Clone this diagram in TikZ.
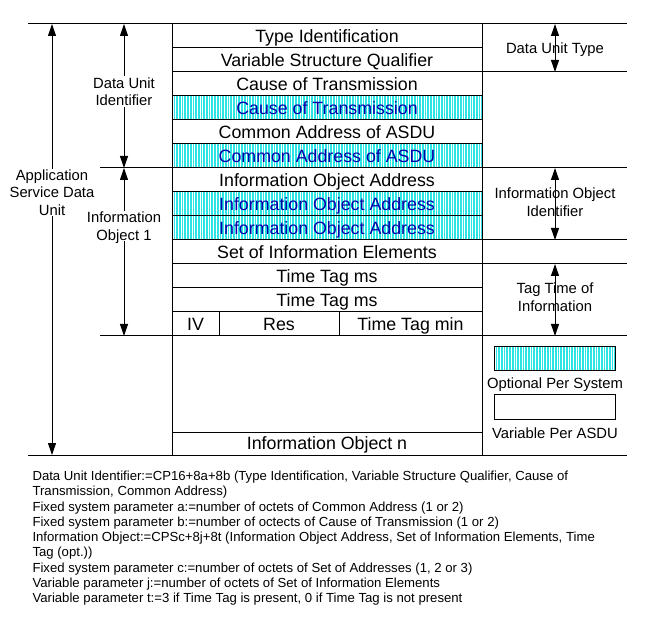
\documentclass[tikz,border=0pt]{standalone}
\usepackage{fontspec}
\setmainfont{Liberation Sans}
\usetikzlibrary{arrows.meta}
\definecolor{cyanfill}{RGB}{45,228,228}
\definecolor{bluetext}{RGB}{0,0,170}
\newcommand\rowfnt{\fontsize{17.8}{21}\selectfont}
\newcommand\lblfnt{\fontsize{14.8}{17.5}\selectfont}
\newcommand\notefnt{\fontsize{13.16}{15.25}\selectfont}
\begin{document}
\begin{tikzpicture}[x=1pt,y=-1pt,line width=1pt,
  rowbox/.style={draw, outer sep=0pt, inner sep=0pt, anchor=north west, minimum height=24pt, font=\rowfnt, text height=12.7pt, text depth=0pt},
  fullrow/.style={rowbox, minimum width=310pt},
  hatched/.style={fill=cyanfill, text=bluetext, path picture={\foreach \k in {0,...,120}{\draw[white,line width=0.8pt] ([xshift=\k*2.7pt+1pt]path picture bounding box.south west) -- ([xshift=\k*2.7pt+1pt]path picture bounding box.north west);}}},
  lbl/.style={font=\lblfnt, align=center, inner sep=1pt, text depth=0pt},
  dimarrow/.style={line width=1pt, {Triangle[length=12pt,width=8pt]}-{Triangle[length=12pt,width=8pt]}}
]
\useasboundingbox (0,0) rectangle (646,631);
% table rows
\node[fullrow] (r1) at (172,24) {Type Identification};
\node[fullrow] (r2) at (172,48) {Variable Structure Qualifier};
\node[fullrow] (r3) at (172,72) {Cause of Transmission};
\node[fullrow,hatched] (r4) at (172,96) {Cause of Transmission};
\node[fullrow] (r5) at (172,120) {Common Address of ASDU};
\node[fullrow,hatched] (r6) at (172,144) {Common Address of ASDU};
\node[fullrow] (r7) at (172,168) {Information Object Address};
\node[fullrow,hatched] (r8) at (172,192) {Information Object Address};
\node[fullrow,hatched] (r9) at (172,216) {Information Object Address};
\node[fullrow] (r10) at (172,240) {Set of Information Elements};
\node[fullrow] (r11) at (172,264) {Time Tag ms};
\node[fullrow] (r12) at (172,288) {Time Tag ms};
\node[rowbox, minimum width=47pt] (iv) at (172,312) {IV};
\node[rowbox, minimum width=120pt] (res) at (219,312) {Res};
\node[rowbox, minimum width=143pt] (ttm) at (339,312) {Time Tag min};
\node[fullrow, minimum height=96pt] (gap) at (172,336) {};
\node[fullrow, minimum height=23pt] (rn) at (172,432) {Information Object n};
% rules
\draw (28,24) -- (627,24);
\draw (28,455) -- (627,455);
\draw (100,168) -- (172,168);
\draw (100,336) -- (172,336);
\foreach \yy in {72,168,240,264,336} \draw (482,\yy) -- (627,\yy);
% arrows
\coordinate (asdT) at (52,24);
\coordinate (asdB) at (52,455);
\coordinate (duiT) at (124,24);
\coordinate (duiB) at (124,168);
\coordinate (io1B) at (124,336);
\coordinate (dutT) at (555,24);
\coordinate (dutB) at (555,72);
\coordinate (ioiT) at (555,168);
\coordinate (ioiB) at (555,240);
\coordinate (ttT) at (555,264);
\coordinate (ttB) at (555,336);
\draw[dimarrow] (asdT) -- (asdB);
\draw[dimarrow] (duiT) -- (duiB);
\draw[dimarrow] (duiB) -- (io1B);
\draw[dimarrow] (dutT) -- (dutB);
\draw[dimarrow] (ioiT) -- (ioiB);
\draw[dimarrow] (ttT) -- (ttB);
% labels
\node[lbl, fill=white] (asdu) at (52,192.5) {Application\\Service Data\\Unit};
\node[lbl, fill=white] (dui) at (124,91.5) {Data Unit\\Identifier};
\node[lbl, fill=white] (io1) at (124,226) {Information\\Object 1};
\node[lbl] (dut) at (555,48) {Data Unit Type};
\node[lbl] (ioi) at (555,202) {Information Object\\Identifier};
\node[lbl] (ttl) at (555,297) {Tag Time of\\Information};
% legend
\node[rowbox, hatched, minimum width=121pt] (legopt) at (494,347) {};
\node[lbl] (legopttxt) at (555,383) {Optional Per System};
\node[rowbox, minimum width=121pt] (legvar) at (494,395) {};
\node[lbl] (legvartxt) at (555,433) {Variable Per ASDU};
% notes
\node[anchor=base west, align=left, font=\notefnt, inner sep=0pt] (notes) at (32,602.5) {Data Unit Identifier:=CP16+8a+8b (Type Identification, Variable Structure Qualifier, Cause of\\
Transmission, Common Address)\\
Fixed system parameter a:=number of octets of Common Address (1 or 2)\\
Fixed system parameter b:=number of octects of Cause of Transmission (1 or 2)\\
Information Object:=CPSc+8j+8t (Information Object Address, Set of Information Elements, Time\\
Tag (opt.))\\
Fixed system parameter c:=number of octets of Set of Addresses (1, 2 or 3)\\
Variable parameter j:=number of octets of Set of Information Elements\\
Variable parameter t:=3 if Time Tag is present, 0 if Time Tag is not present};
\end{tikzpicture}
\end{document}
